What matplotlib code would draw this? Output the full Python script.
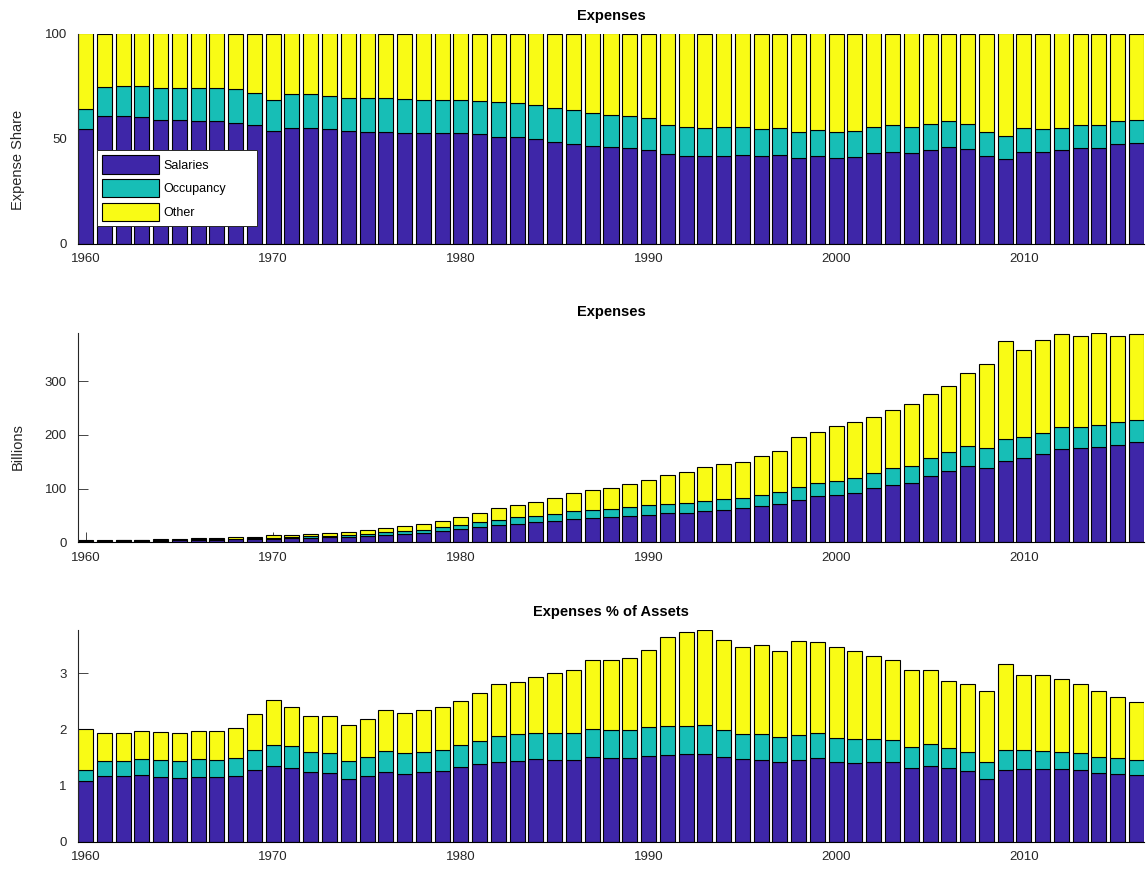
import numpy as np
import matplotlib
matplotlib.use("Agg")
import matplotlib.pyplot as plt

plt.rcParams["font.family"] = ["Liberation Sans", "DejaVu Sans"]

years = np.arange(1960, 2017)

# Salaries share of total expenses (%)
salaries_pct = np.array([
    54.3, 60.9, 60.9, 60.3, 59.0, 58.7, 58.5, 58.2, 57.6, 56.3,
    53.5, 55.2, 55.2, 54.4, 53.6, 53.3, 53.0, 52.7, 52.5, 52.8,
    52.8, 52.2, 50.9, 50.6, 49.8, 48.4, 47.3, 46.4, 45.9, 45.4,
    44.5, 42.6, 41.8, 41.5, 41.8, 42.2, 41.6, 42.1, 40.7, 41.8,
    40.7, 41.3, 42.9, 43.7, 42.9, 44.3, 45.9, 44.9, 41.6, 40.2,
    43.7, 43.7, 44.6, 45.6, 45.4, 47.2, 47.9])

# Occupancy share of total expenses (%)
occupancy_pct = np.array([
    9.8, 13.5, 13.9, 14.5, 15.2, 15.5, 15.7, 15.7, 15.8, 15.2,
    14.9, 15.8, 16.2, 16.0, 15.9, 16.2, 16.3, 16.1, 15.7, 15.4,
    15.7, 15.8, 16.3, 16.5, 16.0, 16.2, 16.1, 15.6, 15.5, 15.4,
    15.2, 14.0, 13.6, 13.4, 13.6, 13.2, 12.8, 12.8, 12.3, 12.3,
    12.3, 12.3, 12.5, 12.5, 12.5, 12.5, 12.2, 11.9, 11.4, 11.1,
    11.2, 10.7, 10.5, 10.6, 10.8, 10.9, 10.8])

# Total expenses (billions)
total_billions = np.array([
    4.6, 4.4, 4.5, 4.9, 5.4, 6.4, 7.2, 8.0, 9.1, 10.5,
    12.8, 14.2, 15.5, 17.4, 20.0, 22.4, 26.6, 29.8, 34.3, 40.5,
    47.0, 55.0, 63.0, 69.0, 75.0, 83.0, 91.0, 97.5, 102.0, 109.0,
    116.0, 126.0, 131.5, 140.5, 145.0, 150.0, 161.5, 170.5, 195.5, 205.0,
    217.0, 223.5, 234.0, 246.0, 258.0, 277.0, 290.5, 315.0, 331.5, 374.5,
    358.0, 376.0, 389.0, 383.5, 390.5, 384.5, 389.0])

# Total expenses as % of assets
total_pct_assets = np.array([
    2.00, 1.93, 1.93, 1.98, 1.95, 1.93, 1.98, 1.97, 2.02, 2.28,
    2.53, 2.39, 2.24, 2.24, 2.07, 2.18, 2.34, 2.30, 2.35, 2.39,
    2.51, 2.64, 2.80, 2.85, 2.94, 3.01, 3.06, 3.24, 3.23, 3.27,
    3.41, 3.64, 3.73, 3.77, 3.59, 3.47, 3.51, 3.39, 3.57, 3.565,
    3.47, 3.40, 3.30, 3.23, 3.05, 3.05, 2.87, 2.80, 2.68, 3.17,
    2.96, 2.965, 2.89, 2.80, 2.69, 2.57, 2.48])

series_names = ["Salaries", "Occupancy", "Other"]
colors = ["#3E26A8", "#17BEB6", "#F9FB15"]

other_pct = 100.0 - salaries_pct - occupancy_pct
shares = np.vstack([salaries_pct, occupancy_pct, other_pct]) / 100.0

panels = [
    ("Expenses", shares * 100.0, "Expense Share", [0, 50, 100], 100.0),
    ("Expenses", shares * total_billions, "Billions", [0, 100, 200, 300], None),
    ("Expenses % of Assets", shares * total_pct_assets, None, [0, 1, 2, 3], None),
]

W, H = 1147, 869
fig = plt.figure(figsize=(W / 100, H / 100), dpi=100)

# axes boxes in pixels: left, right, top, bottom
boxes = [(78, 1144, 33.5, 243.5), (78, 1144, 332.7, 542.3), (78, 1144, 630, 841.7)]
label_y = [0.40, 0.456, 0.5]
title_pad = [10, 12, 10]
text_col = "#262626"

for i, ((title, data, ylabel, yticks, ytop), (l, r, t, b)) in enumerate(zip(panels, boxes)):
    ax = fig.add_axes([l / W, (H - b) / H, (r - l) / W, (b - t) / H])
    bottom = np.zeros(len(years))
    for k in range(3):
        ax.bar(years, data[k], width=0.8, bottom=bottom, color=colors[k],
               edgecolor="black", linewidth=0.8, label=series_names[k])
        bottom = bottom + data[k]
    ax.set_xlim(years[0] - 0.4, years[-1] + 0.4)
    ax.set_ylim(0, ytop if ytop is not None else bottom.max())
    ax.set_xticks(np.arange(1960, 2011, 10))
    ax.set_yticks(yticks)
    ax.set_axisbelow(True)
    for s in ("top", "right"):
        ax.spines[s].set_visible(False)
    ax.spines["left"].set_color(text_col)
    ax.spines["left"].set_linewidth(0.8)
    ax.spines["bottom"].set_color("black")
    ax.spines["bottom"].set_linewidth(0.8)
    ax.tick_params(direction="in", length=7, width=0.6, colors=text_col,
                   labelsize=9.5, pad=7)
    ax.tick_params(axis="y", pad=8)
    ax.set_title(title, fontsize=10.5, fontweight="bold", pad=title_pad[i], color="black")
    if ylabel:
        ax.set_ylabel(ylabel, fontsize=10.5, color=text_col)
        ax.yaxis.set_label_coords(-0.05, label_y[i])
    if i == 0:
        leg = ax.legend(loc="lower left", bbox_to_anchor=(0.0175, 0.081, 0.1504, 0.36),
                        mode="expand", borderaxespad=0, fancybox=False,
                        edgecolor=text_col, framealpha=1, fontsize=9,
                        handlelength=4.6, handleheight=1.85, labelspacing=0.46,
                        borderpad=0.42, handletextpad=0.35)
        leg.get_frame().set_linewidth(0.7)

fig.savefig("out.png", dpi=100)
